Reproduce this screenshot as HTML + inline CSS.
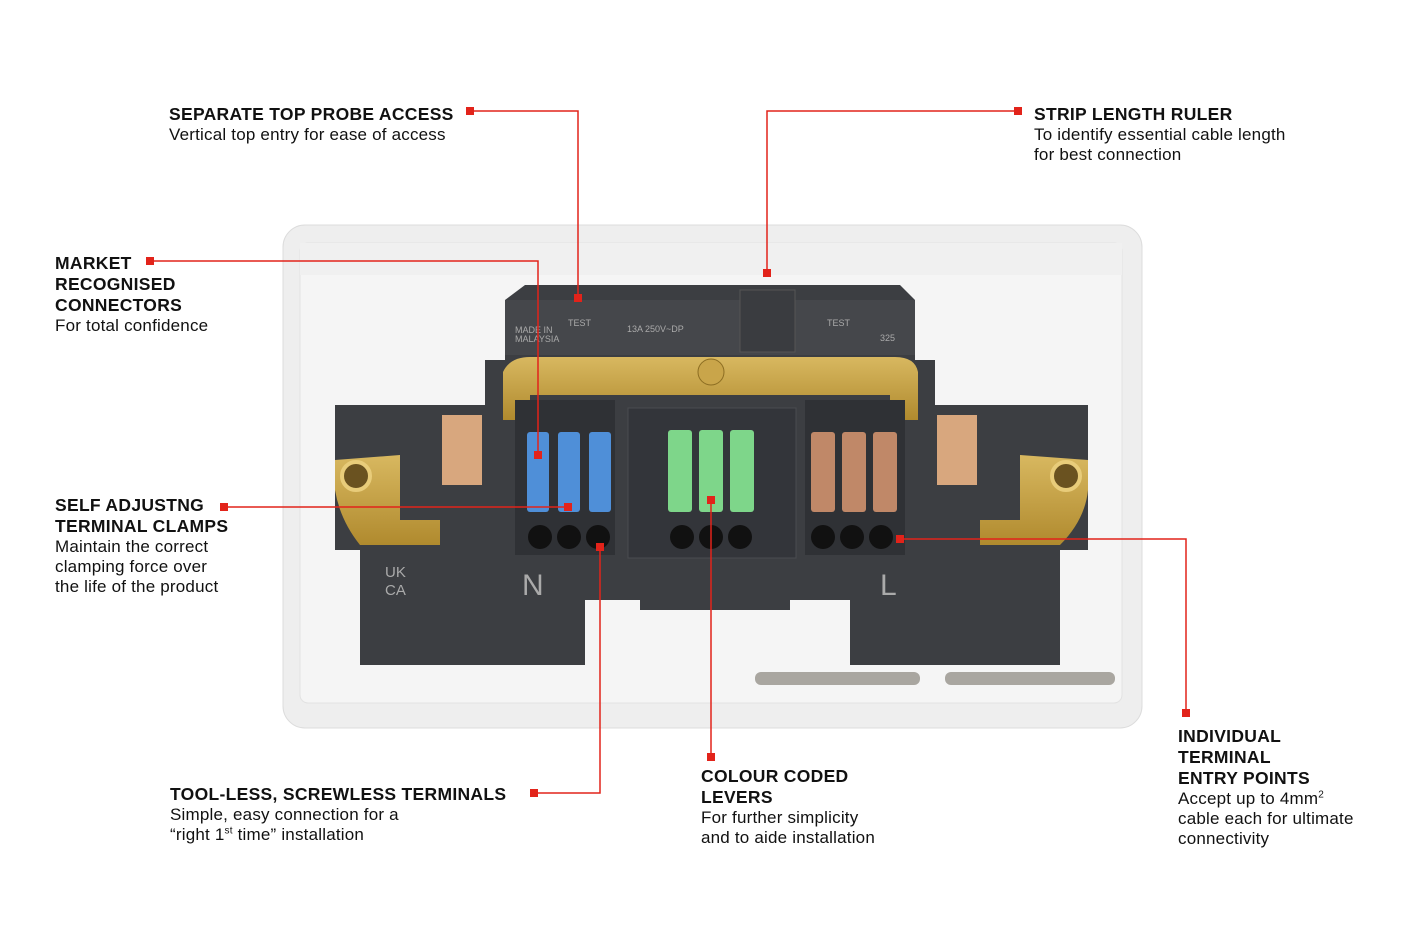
<!DOCTYPE html>
<html><head><style>
body{margin:0;background:#fff;width:1424px;height:950px;overflow:hidden;position:relative;font-family:"Liberation Sans",sans-serif;color:#111}
.t{position:absolute;font-size:17px;line-height:20px;letter-spacing:0.2px}
.t b{font-size:17.5px;letter-spacing:0.3px}
</style></head><body>
<svg width="1424" height="950" style="position:absolute;left:0;top:0">
<defs><linearGradient id="br" x1="0" y1="0" x2="0" y2="1"><stop offset="0" stop-color="#d8b860"/><stop offset="1" stop-color="#b08a2e"/></linearGradient></defs>
<rect x="283" y="225" width="859" height="503" rx="22" fill="#eeeeee" stroke="#dcdcdc"/>
<rect x="300" y="243" width="822" height="460" rx="8" fill="#f5f5f5" stroke="#e2e2e2"/>
<rect x="300" y="243" width="822" height="32" fill="#f0f0f0"/>
<!-- dark body -->
<path d="M505 300 L525 285 L900 285 L915 300 L915 360 L935 360 L935 405 L1088 405 L1088 550 L1060 550 L1060 665 L850 665 L850 600 L790 600 L790 610 L640 610 L640 600 L585 600 L585 665 L360 665 L360 550 L335 550 L335 405 L485 405 L485 360 L505 360 Z" fill="#3c3e42"/>
<rect x="505" y="300" width="410" height="55" fill="#45474b"/>
<rect x="740" y="290" width="55" height="62" fill="#3a3c40" stroke="#555"/>
<!-- brass -->
<path d="M503 372 Q510 357 530 357 L895 357 Q915 357 918 372 L918 420 L890 420 L890 395 L530 395 L530 420 L503 420 Z" fill="url(#br)"/>
<circle cx="711" cy="372" r="13" fill="#c9a54a" stroke="#8c6d22"/>
<path d="M335 460 L400 455 L400 520 L440 520 L440 545 L360 545 Q340 520 335 490 Z" fill="url(#br)"/>
<path d="M1088 460 L1020 455 L1020 520 L980 520 L980 545 L1060 545 Q1085 520 1088 490 Z" fill="url(#br)"/>
<circle cx="356" cy="476" r="14" fill="#6a5220" stroke="#e8cc7a" stroke-width="4"/>
<circle cx="1066" cy="476" r="14" fill="#6a5220" stroke="#e8cc7a" stroke-width="4"/>
<rect x="442" y="415" width="40" height="70" fill="#d8a77e"/>
<rect x="937" y="415" width="40" height="70" fill="#d8a77e"/>
<!-- terminal blocks -->
<rect x="515" y="400" width="100" height="155" fill="#2f3135"/>
<rect x="628" y="408" width="168" height="150" fill="#33353a" stroke="#4a4c50"/>
<rect x="805" y="400" width="100" height="155" fill="#2f3135"/>
<g fill="#4f8fd8"><rect x="527" y="432" width="22" height="80" rx="3"/><rect x="558" y="432" width="22" height="80" rx="3"/><rect x="589" y="432" width="22" height="80" rx="3"/></g>
<g fill="#7ed68a"><rect x="668" y="430" width="24" height="82" rx="3"/><rect x="699" y="430" width="24" height="82" rx="3"/><rect x="730" y="430" width="24" height="82" rx="3"/></g>
<g fill="#c08868"><rect x="811" y="432" width="24" height="80" rx="3"/><rect x="842" y="432" width="24" height="80" rx="3"/><rect x="873" y="432" width="24" height="80" rx="3"/></g>
<g fill="#111"><circle cx="540" cy="537" r="12"/><circle cx="569" cy="537" r="12"/><circle cx="598" cy="537" r="12"/><circle cx="682" cy="537" r="12"/><circle cx="711" cy="537" r="12"/><circle cx="740" cy="537" r="12"/><circle cx="823" cy="537" r="12"/><circle cx="852" cy="537" r="12"/><circle cx="881" cy="537" r="12"/></g>
<g fill="#aaa" font-family="Liberation Sans" font-size="30"><text x="522" y="595">N</text><text x="880" y="595">L</text></g>
<g fill="#aaa" font-family="Liberation Sans" font-size="9"><text x="515" y="333">MADE IN</text><text x="515" y="342">MALAYSIA</text><text x="568" y="326">TEST</text><text x="827" y="326">TEST</text><text x="627" y="332">13A 250V~DP</text><text x="880" y="341">325</text></g>
<g fill="#aaa" font-family="Liberation Sans" font-size="15"><text x="385" y="577">UK</text><text x="385" y="595">CA</text></g>
<!-- screws -->
<rect x="755" y="672" width="165" height="13" rx="6" fill="#a9a6a0"/>
<rect x="945" y="672" width="170" height="13" rx="6" fill="#a9a6a0"/>
<!-- red callouts -->
<g stroke="#e2231a" stroke-width="1.5" fill="none">
<polyline points="470,111 578,111 578,298"/>
<polyline points="1018,111 767,111 767,273"/>
<polyline points="150,261 538,261 538,455"/>
<polyline points="224,507 568,507"/>
<polyline points="534,793 600,793 600,547"/>
<polyline points="711,757 711,500"/>
<polyline points="1186,713 1186,539 900,539"/>
</g>
<g fill="#e2231a">
<rect x="466" y="107" width="8" height="8"/><rect x="574" y="294" width="8" height="8"/>
<rect x="1014" y="107" width="8" height="8"/><rect x="763" y="269" width="8" height="8"/>
<rect x="146" y="257" width="8" height="8"/><rect x="534" y="451" width="8" height="8"/>
<rect x="220" y="503" width="8" height="8"/><rect x="564" y="503" width="8" height="8"/>
<rect x="530" y="789" width="8" height="8"/><rect x="596" y="543" width="8" height="8"/>
<rect x="707" y="753" width="8" height="8"/><rect x="707" y="496" width="8" height="8"/>
<rect x="1182" y="709" width="8" height="8"/><rect x="896" y="535" width="8" height="8"/>
</g>
</svg>
<div class="t" style="left:169px;top:104px"><b>SEPARATE TOP PROBE ACCESS</b><br>Vertical top entry for ease of access</div>
<div class="t" style="left:1034px;top:104px"><b>STRIP LENGTH RULER</b><br>To identify essential cable length<br>for best connection</div>
<div class="t" style="left:55px;top:253px"><b>MARKET<br>RECOGNISED<br>CONNECTORS</b><br>For total confidence</div>
<div class="t" style="left:55px;top:495px"><b>SELF ADJUSTNG<br>TERMINAL CLAMPS</b><br>Maintain the correct<br>clamping force over<br>the life of the product</div>
<div class="t" style="left:170px;top:784px"><b>TOOL-LESS, SCREWLESS TERMINALS</b><br>Simple, easy connection for a<br>“right 1<sup style="font-size:10px;line-height:0">st</sup> time” installation</div>
<div class="t" style="left:701px;top:766px"><b>COLOUR CODED<br>LEVERS</b><br>For further simplicity<br>and to aide installation</div>
<div class="t" style="left:1178px;top:726px"><b>INDIVIDUAL<br>TERMINAL<br>ENTRY POINTS</b><br>Accept up to 4mm<sup style="font-size:10px;line-height:0">2</sup><br>cable each for ultimate<br>connectivity</div>
</body></html>
